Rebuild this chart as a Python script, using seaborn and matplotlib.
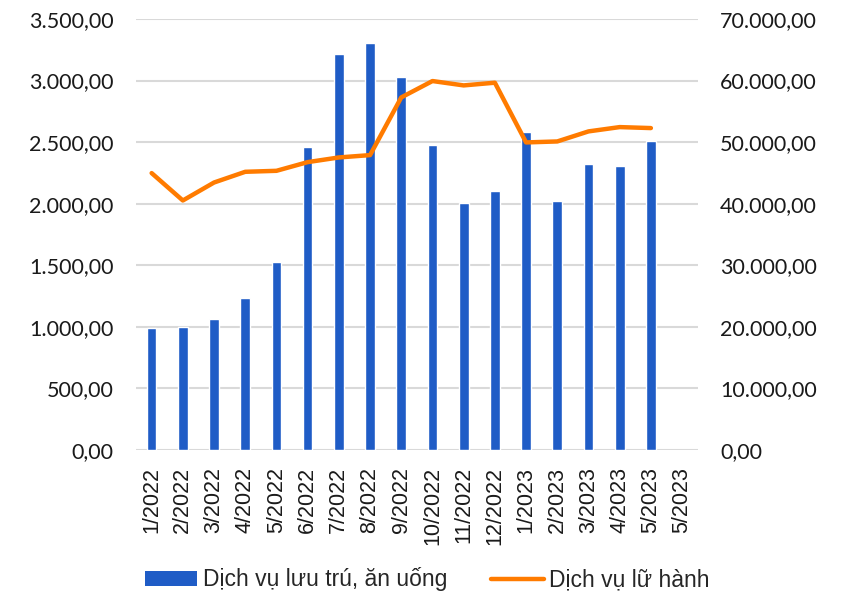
import numpy as np
import pandas as pd
import matplotlib
matplotlib.use("Agg")
import matplotlib.pyplot as plt
from matplotlib.ticker import FuncFormatter, MultipleLocator
from matplotlib.patches import Patch
from matplotlib.lines import Line2D
import seaborn as sns

# data
months = ["1/2022", "2/2022", "3/2022", "4/2022", "5/2022", "6/2022", "7/2022",
          "8/2022", "9/2022", "10/2022", "11/2022", "12/2022", "1/2023",
          "2/2023", "3/2023", "4/2023", "5/2023"]
tick_labels = months + ["5/2023"]  # the source repeats the last label on an empty slot
luu_tru = [989, 997, 1062, 1238, 1525, 2462, 3215, 3302, 3031, 2473, 2007,
           2107, 2582, 2024, 2322, 2305, 2509]
lu_hanh = [44970, 40520, 43440, 45180, 45340, 46750, 47510, 47890, 57260,
           59920, 59210, 59650, 49950, 50110, 51740, 52440, 52280]

blue = "#1f5cc6"
orange = "#ff7b00"
grid_c = "#d9d9d9"

sns.set_theme(style="white")
plt.rcParams['font.family'] = ['Liberation Sans', 'DejaVu Sans']


def vn(v, pos=None):
    s = "{:,.2f}".format(v)
    return s.replace(",", "X").replace(".", ",").replace("X", ".")


df = pd.DataFrame({"thang": months, "luu_tru": luu_tru, "lu_hanh": lu_hanh})
order = months + ["_empty"]

fig = plt.figure(figsize=(8.46, 5.91), dpi=100)
ax = fig.add_axes([0.1608, 0.2386, 0.6639, 0.7293])

sns.barplot(data=df, x="thang", y="luu_tru", order=order, color=blue,
            width=0.31, saturation=1, ax=ax)
ax.set_xlim(-0.5, len(order) - 0.5)
ax.set_ylim(0, 3500)
ax.yaxis.set_major_locator(MultipleLocator(500))
ax.yaxis.set_major_formatter(FuncFormatter(vn))
ax.set_xticks(range(len(tick_labels)))
ax.set_xticklabels(tick_labels, rotation=90, fontsize=15.5)
ax.set_xlabel("")
ax.set_ylabel("")
ax.grid(axis="y", color=grid_c, linewidth=1.5)
ax.set_axisbelow(True)
for s in ax.spines.values():
    s.set_visible(False)
ax.tick_params(axis="x", length=0, pad=12, colors="#1a1a1a")
ax.tick_params(axis="y", length=0, pad=16, labelsize=15.5, colors="#1a1a1a")
for t in ax.get_yticklabels():
    t.set_family("Lato")

ax2 = ax.twinx()
sns.lineplot(x=np.arange(len(months)), y=df["lu_hanh"], color=orange,
             linewidth=3.2, ax=ax2)
ax2.set_ylim(0, 70000)
ax2.yaxis.set_major_locator(MultipleLocator(10000))
ax2.yaxis.set_major_formatter(FuncFormatter(vn))
ax2.set_ylabel("")
for s in ax2.spines.values():
    s.set_visible(False)
ax2.tick_params(axis="y", length=0, pad=16, labelsize=15.5, colors="#1a1a1a")
for t in ax2.get_yticklabels():
    t.set_family("Lato")

handles = [Patch(facecolor=blue, edgecolor="none"),
           Line2D([0], [0], color=orange, linewidth=3.2)]
fig.legend(handles, ["Dịch vụ lưu trú, ăn uống", "Dịch vụ lữ hành"],
           loc="center", bbox_to_anchor=(0.505, 0.0195), ncol=2, frameon=False,
           fontsize=16.5, handlelength=2.3, handleheight=0.6,
           handletextpad=0.25, columnspacing=1.9)

fig.savefig("out.png", dpi=100)
